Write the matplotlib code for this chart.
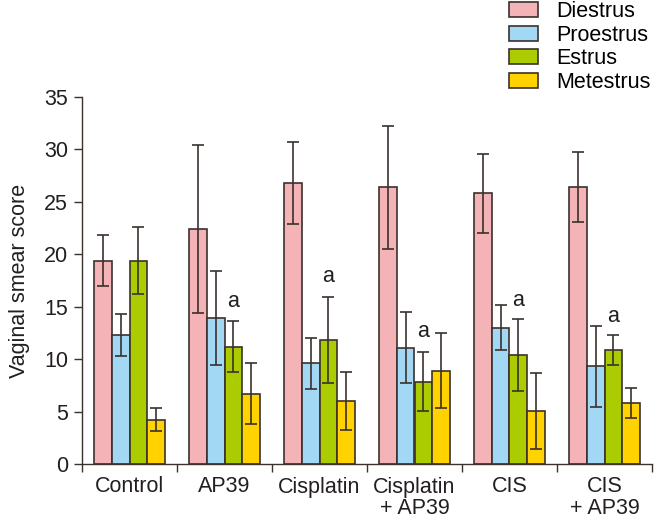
import matplotlib
matplotlib.use("Agg")
import matplotlib.pyplot as plt
import matplotlib.patches as mpatches
import numpy as np

plt.rcParams['font.family'] = ['Liberation Sans', 'DejaVu Sans']

groups = ['Control', 'AP39', 'Cisplatin', 'Cisplatin\n+ AP39', 'CIS', 'CIS\n+ AP39']
stages = ['Diestrus', 'Proestrus', 'Estrus', 'Metestrus']
colors = ['#F4B3B6', '#A2D8F4', '#AACC00', '#FFD200']

diestrus = [19.4, 22.4, 26.8, 26.4, 25.8, 26.4]
proestrus = [12.3, 13.9, 9.6, 11.1, 13.0, 9.3]
estrus = [19.4, 11.2, 11.8, 7.85, 10.4, 10.9]
metestrus = [4.2, 6.7, 6.0, 8.9, 5.05, 5.8]

diestrus_err = [2.45, 8.0, 3.9, 5.85, 3.8, 3.35]
proestrus_err = [2.0, 4.5, 2.45, 3.4, 2.15, 3.9]
estrus_err = [3.2, 2.4, 4.1, 2.8, 3.45, 1.43]
metestrus_err = [1.1, 2.9, 2.75, 3.6, 3.6, 1.43]

# "a" marks sit above the estrus bars
a_groups = [1, 2, 3, 4, 5]
a_y = [15.5, 17.9, 12.6, 15.6, 14.1]

values = [diestrus, proestrus, estrus, metestrus]
errors = [diestrus_err, proestrus_err, estrus_err, metestrus_err]

edge = '#3b312d'
txt = '#231f20'
fs = 15.5

fig = plt.figure(figsize=(6.55, 5.22), dpi=100)
ax = fig.add_axes([82/655, 1-464/522, (652-82)/655, (464-97)/522])

x = np.arange(len(groups))
w = 0.187
for i in range(4):
    pos = x + (i - 1.5) * w
    ax.bar(pos, values[i], width=w, color=colors[i], edgecolor=edge, linewidth=1.2, zorder=2)
    ax.errorbar(pos, values[i], yerr=errors[i], fmt='none', ecolor=edge,
                elinewidth=1.2, capsize=4, capthick=1.2, zorder=3)

for g, yy in zip(a_groups, a_y):
    ax.text(g + 0.5 * w, yy, 'a', ha='center', va='center', fontsize=fs, color=txt)

ax.set_xlim(-0.5, len(groups) - 0.5)
ax.set_ylim(0, 35)
ax.set_yticks(np.arange(0, 36, 5))
ax.set_xticks(x)
ax.set_xticklabels(groups, fontsize=fs, color=txt, linespacing=1.05, va='top')
ax.set_xticks(np.arange(-0.5, len(groups), 1.0), minor=True)
ax.tick_params(axis='x', which='major', length=0, pad=9)
ax.tick_params(axis='x', which='minor', length=6, width=1.0, color=edge)
ax.tick_params(axis='y', length=6, width=1.0, color=edge, labelsize=fs, labelcolor=txt, pad=4)
ax.set_ylabel('Vaginal smear score', fontsize=fs, color=txt, labelpad=10)
for s in ['top', 'right']:
    ax.spines[s].set_visible(False)
for s in ['left', 'bottom']:
    ax.spines[s].set_color(edge)
    ax.spines[s].set_linewidth(1.0)

handles = [mpatches.Patch(facecolor=c, edgecolor=edge, linewidth=1.2, label=l) for c, l in zip(colors, stages)]
fig.legend(handles=handles, loc='upper left', bbox_to_anchor=(508/655, 1.0), frameon=False,
           fontsize=fs, handlelength=1.35, handleheight=0.7, labelspacing=0.12,
           handletextpad=0.85, borderpad=0, borderaxespad=0.05)

fig.savefig('out.png', dpi=100)
